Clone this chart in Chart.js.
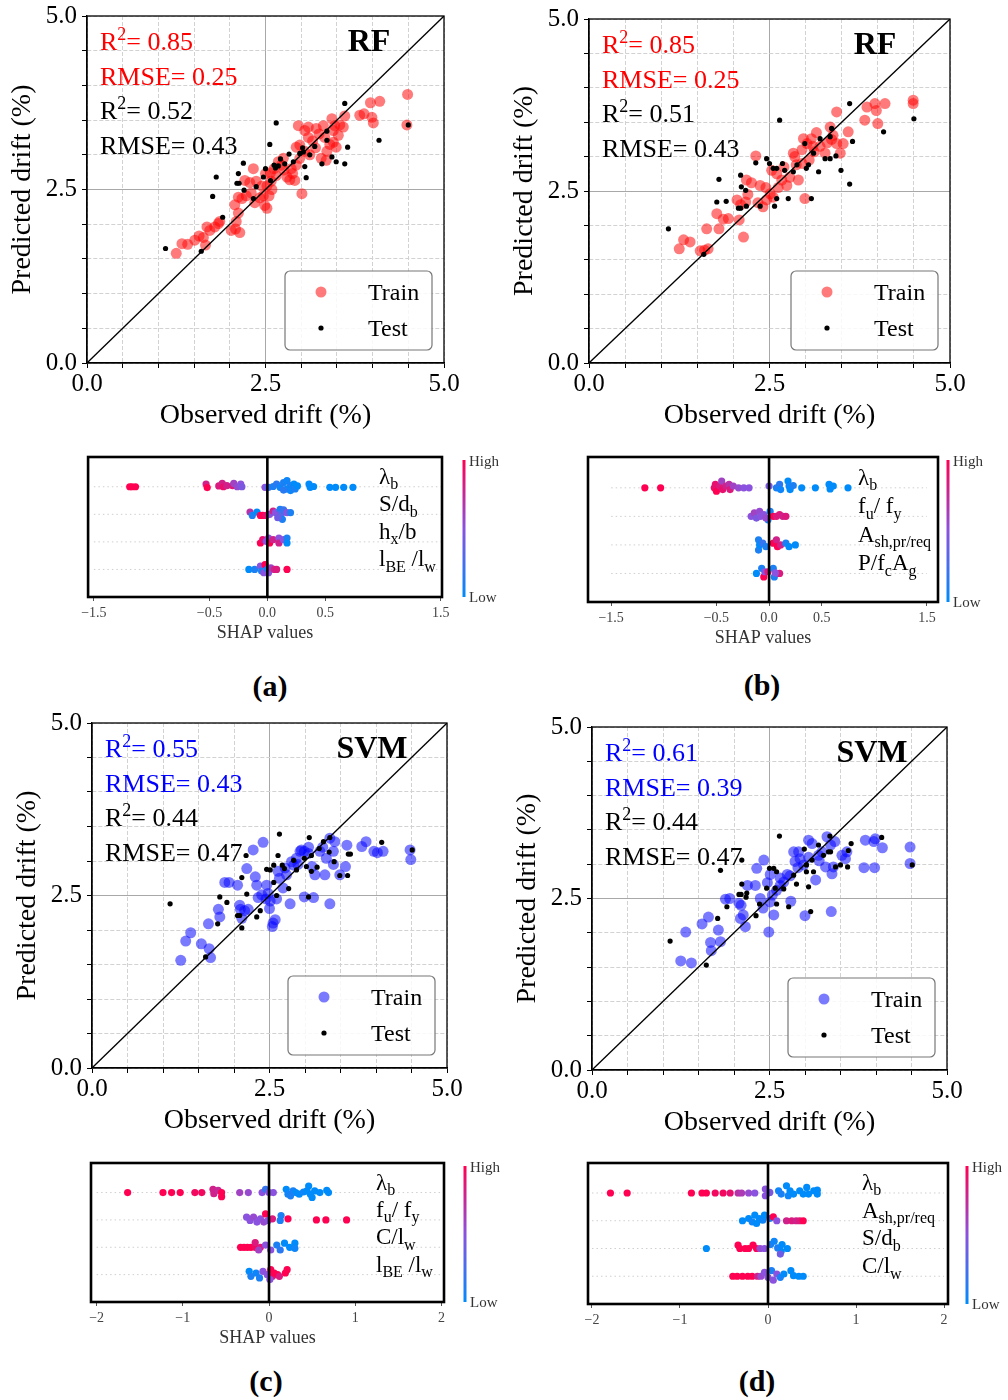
<!DOCTYPE html>
<html>
<head>
<meta charset="utf-8">
<script src="https://cdn.jsdelivr.net/npm/chart.js@4.4.1/dist/chart.umd.min.js"></script>
<style>
  html, body { margin: 0; padding: 0; background: #fff; }
  body { width: 1008px; height: 1400px; position: relative; overflow: hidden;
         font-family: "Liberation Serif", "Times New Roman", serif; }
  .box { position: absolute; }
  .tag { position: absolute; font-weight: bold; font-size: 30px; color: #000;
         transform: translate(-50%, -50%); white-space: nowrap; }
</style>
</head>
<body>
<div class="tag" style="left:270px;top:686px">(a)</div>
<div class="tag" style="left:762px;top:685px">(b)</div>
<div class="tag" style="left:266px;top:1381px">(c)</div>
<div class="tag" style="left:757px;top:1381px">(d)</div>
<script>
// ---- data ----
const driftTicks = [0, 2.5, 5.0];
const unityLine = [0, 5];
const models = ['RF', 'RF', 'SVM', 'SVM'];
const r2Train = ['0.85', '0.85', '0.55', '0.61'];
const rmseTrain = ['0.25', '0.25', '0.43', '0.39'];
const r2Test = ['0.52', '0.51', '0.44', '0.44'];
const rmseTest = ['0.43', '0.43', '0.47', '0.47'];

// observed, predicted
const trainA = [[1.25,1.58],[1.33,1.72],[1.41,1.71],[1.51,1.77],[1.57,1.83],[1.63,1.81],[1.66,1.70],[1.68,1.96],[1.72,1.91],[1.79,1.96],[1.86,2.04],[1.84,2.01],
  [2.02,1.91],[2.08,1.93],[2.14,1.88],[2.09,2.04],[2.12,2.16],[2.07,2.28],[2.12,2.39],[2.17,2.37],[2.23,2.41],[2.21,2.63],[2.28,2.60],[2.33,2.80],[2.37,2.62],[2.35,2.31],[2.42,2.38],[2.47,2.41],[2.49,2.27],[2.52,2.23],[2.55,2.41],[2.59,2.50],[2.52,2.55],[2.58,2.62],[2.50,2.73],[2.57,2.74],[2.62,2.80],[2.68,2.90],[2.72,2.85],[2.76,2.78],[2.80,2.68],[2.84,2.64],[2.91,2.63],[2.88,2.73],[2.93,2.85],[3.01,2.44],[2.98,2.95],[2.93,3.11],[2.98,3.14],[2.96,3.42],[3.05,3.35],[3.10,3.40],[3.05,3.05],[3.12,3.00],[3.16,3.20],[3.20,3.10],[3.21,3.38],[3.25,3.30],[3.31,3.42],[3.33,3.25],[3.36,3.05],[3.40,3.15],[3.43,3.52],[3.45,3.35],[3.45,3.18],[3.47,3.42],[3.49,3.11],[3.52,3.28],[3.54,3.43],[3.35,2.92],[3.28,2.95],[3.59,3.40],[3.61,3.56],[3.82,3.57],[3.88,3.59],[3.97,3.75],[3.99,3.54],[4.01,3.46],[4.10,3.77],[4.49,3.87],[4.48,3.43],[2.65,2.70],[2.45,2.55],[2.30,2.45],[2.75,2.95],[3.10,3.25],[2.86,2.80]];
const testA = [[1.10,1.65],[1.60,1.61],[1.76,2.40],[1.81,2.68],[1.90,2.10],[2.10,2.59],[2.13,2.59],[2.12,2.73],[2.19,2.88],[2.20,2.49],[2.33,2.37],[2.37,2.54],[2.47,2.68],[2.50,2.80],[2.57,2.63],[2.56,3.15],[2.62,2.85],[2.64,2.81],[2.65,3.46],[2.68,2.84],[2.71,2.94],[2.77,2.87],[2.83,3.01],[2.89,2.90],[2.98,3.02],[3.03,3.04],[3.05,2.83],[3.07,2.67],[3.02,3.10],[3.12,3.00],[3.19,3.12],[3.29,2.87],[3.36,3.34],[3.36,3.21],[3.43,2.97],[3.49,2.90],[3.61,2.87],[3.65,3.11],[3.61,3.74],[4.09,3.21],[4.50,3.43]];

const trainB = [[1.25,1.66],[1.31,1.79],[1.40,1.76],[1.54,1.63],[1.65,1.66],[1.60,1.64],[1.63,1.95],[1.77,2.17],[1.80,1.95],[1.86,2.09],[1.93,2.10],[2.05,2.37],[2.08,2.08],[2.14,1.83],[2.17,2.34],[2.10,2.30],[2.18,2.66],[2.25,2.62],[2.31,3.01],[2.37,2.58],[2.34,2.33],[2.41,2.27],[2.46,2.37],[2.51,2.46],[2.55,2.41],[2.53,2.80],[2.60,2.75],[2.67,2.66],[2.74,2.58],[2.78,2.70],[2.83,3.05],[2.87,2.88],[2.90,2.66],[2.97,3.26],[2.99,2.39],[3.02,3.19],[3.08,3.26],[3.12,3.07],[3.05,2.95],[3.27,3.05],[3.34,3.43],[3.38,3.31],[3.43,3.65],[3.43,3.19],[3.48,3.05],[3.52,3.19],[3.59,3.36],[3.30,3.20],[3.20,3.15],[2.95,2.90],[2.70,2.85],[2.62,2.55],[3.82,3.53],[3.85,3.72],[3.96,3.77],[3.98,3.67],[4.00,3.48],[4.10,3.77],[4.49,3.82],[4.49,3.77],[2.95,3.10],[3.15,3.35],[3.36,3.25],[2.45,2.55],[2.20,2.45],[2.85,3.00],[3.10,3.15]];
const testB = [[1.10,1.95],[1.59,1.58],[1.77,2.34],[1.80,2.67],[1.90,2.35],[2.07,2.25],[2.10,2.25],[2.10,2.73],[2.11,2.56],[2.17,2.51],[2.18,2.28],[2.31,2.91],[2.37,2.28],[2.46,2.97],[2.50,2.90],[2.55,2.83],[2.60,2.83],[2.57,2.28],[2.60,2.39],[2.64,3.53],[2.68,2.90],[2.71,2.80],[2.76,2.39],[2.83,2.78],[2.88,2.88],[2.99,3.19],[3.01,2.83],[3.04,2.88],[3.08,2.39],[3.11,3.05],[3.18,2.78],[3.20,3.26],[3.27,2.97],[3.34,3.29],[3.36,3.41],[3.34,2.97],[3.42,3.01],[3.49,2.80],[3.61,3.77],[3.61,2.60],[3.65,3.22],[4.08,3.36],[4.50,3.55]];

const trainC = [[1.25,1.56],[1.32,1.84],[1.39,1.96],[1.54,1.80],[1.65,1.73],[1.67,1.60],[1.64,2.09],[1.78,2.30],[1.80,2.19],[1.87,2.69],[1.93,2.69],[2.05,2.65],[2.08,2.36],[2.09,2.30],[2.11,2.17],[2.15,2.28],[2.18,2.89],[2.27,3.16],[2.30,2.77],[2.32,2.65],[2.34,2.47],[2.41,3.27],[2.39,2.51],[2.46,2.65],[2.48,2.53],[2.50,2.31],[2.51,2.42],[2.55,2.10],[2.58,2.15],[2.54,2.05],[2.60,2.45],[2.64,2.75],[2.69,2.61],[2.72,2.90],[2.74,2.80],[2.79,2.38],[2.81,2.99],[2.84,2.94],[2.88,3.04],[2.93,3.14],[2.95,3.16],[2.99,3.14],[2.99,2.48],[3.05,3.11],[3.10,2.92],[3.12,2.47],[3.14,2.80],[3.21,3.14],[3.28,2.80],[3.30,3.04],[3.35,3.33],[3.40,3.14],[3.42,3.28],[3.35,2.38],[3.40,2.95],[3.49,2.80],[3.57,2.92],[3.59,3.23],[3.80,3.21],[3.86,3.28],[3.97,3.14],[4.02,3.12],[4.10,3.14],[4.48,3.16],[4.49,3.02],[2.62,2.85],[2.90,2.95],[3.05,3.20],[2.45,2.45],[2.20,2.30],[3.25,3.20]];
const testC = [[1.10,2.38],[1.60,1.61],[1.77,2.09],[1.80,2.48],[1.90,2.40],[2.05,2.21],[2.08,2.21],[2.11,2.03],[2.11,2.76],[2.18,2.52],[2.17,3.08],[2.32,2.19],[2.37,2.28],[2.46,2.88],[2.51,2.87],[2.56,2.69],[2.56,2.94],[2.60,2.50],[2.62,3.08],[2.64,3.39],[2.68,2.94],[2.71,2.89],[2.77,2.60],[2.84,3.01],[2.88,2.87],[2.99,3.04],[3.02,2.92],[3.06,3.34],[3.05,2.48],[3.09,2.85],[3.09,3.08],[3.17,2.91],[3.20,3.18],[3.26,3.28],[3.35,3.34],[3.34,3.13],[3.41,2.99],[3.49,2.79],[3.60,2.79],[3.61,3.10],[3.64,3.10],[4.08,3.27],[4.51,3.16]];

const trainD = [[1.25,1.59],[1.40,1.56],[1.32,2.01],[1.55,2.13],[1.64,2.23],[1.67,1.86],[1.68,1.74],[1.78,2.04],[1.81,1.87],[1.88,2.49],[1.94,2.50],[2.07,2.43],[2.10,2.40],[2.09,2.21],[2.13,2.26],[2.16,2.09],[2.19,2.69],[2.30,2.69],[2.32,2.94],[2.42,3.06],[2.37,2.50],[2.41,2.36],[2.49,2.01],[2.51,2.45],[2.56,2.26],[2.54,2.55],[2.47,2.73],[2.51,2.85],[2.60,2.62],[2.65,2.69],[2.70,2.74],[2.75,2.85],[2.79,2.83],[2.80,2.46],[2.84,3.18],[2.91,3.18],[2.86,3.04],[2.93,3.08],[2.98,2.99],[3.00,2.25],[3.05,3.35],[3.10,3.30],[3.15,2.77],[3.19,3.13],[3.24,3.18],[3.29,2.96],[3.31,3.40],[3.36,3.28],[3.38,2.86],[3.40,2.96],[3.42,3.33],[3.37,2.31],[3.52,3.13],[3.57,3.08],[3.59,3.18],[3.83,2.95],[3.85,3.35],[3.97,3.33],[3.99,3.37],[3.98,2.95],[4.09,3.24],[4.48,3.25],[4.48,3.01],[2.90,2.95],[3.20,3.05],[2.65,2.80],[3.05,3.10]];
const testD = [[1.10,1.88],[1.61,1.53],[1.77,2.21],[1.81,2.91],[1.90,2.38],[2.07,2.56],[2.10,2.56],[2.11,2.71],[2.11,3.06],[2.17,2.52],[2.18,2.58],[2.31,2.25],[2.36,2.42],[2.46,2.65],[2.50,2.94],[2.56,2.94],[2.60,2.89],[2.58,2.65],[2.60,2.42],[2.64,3.41],[2.70,2.64],[2.77,2.38],[2.84,2.84],[2.88,2.71],[2.99,3.22],[3.02,2.89],[3.05,2.67],[3.02,2.99],[3.08,2.31],[3.10,3.06],[3.12,2.89],[3.19,3.28],[3.26,3.13],[3.33,3.18],[3.35,3.41],[3.36,3.18],[3.43,2.96],[3.50,2.99],[3.60,2.96],[3.61,3.20],[3.65,3.30],[4.08,3.39],[4.51,2.99]];

// SHAP rows: [shap value, swarm offset (rows), feature value 0=low..1=high]
const shapA = [
  [[-1.19,0,1],[-1.17,0,1],[-1.14,0,1],[-0.53,-0.1,0.8],[-0.52,0.03,1],[-0.42,-0.03,0.85],[-0.39,-0.12,0.8],[-0.38,0,0.9],[-0.35,-0.04,0.8],[-0.30,-0.04,0.85],[-0.29,-0.12,0.6],[-0.26,0,0.55],[-0.23,-0.1,0.5],[-0.22,0,0.45],
   [-0.02,0.02,0.5],[0.01,0.02,0.2],[0.05,-0.01,0.1],[0.08,-0.1,0.15],[0.11,0.02,0.05],[0.14,-0.15,0.1],[0.17,-0.22,0.05],[0.17,0.08,0],[0.20,-0.04,0.1],[0.20,0.14,0.05],[0.23,-0.1,0],[0.24,0.08,0.1],[0.26,-0.03,0],[0.14,0.12,0.15],
   [0.36,-0.1,0],[0.37,0.02,0],[0.40,-0.01,0],[0.54,0.02,0],[0.59,0.02,0],[0.66,0.02,0],[0.74,0.02,0]],
  [[-0.15,-0.08,0.7],[-0.13,0.04,0.1],[-0.09,-0.08,0],[-0.06,0.04,1],[-0.04,0.04,1],[-0.01,0.04,0.9],[0.02,0,0.5],[0.05,-0.12,0.8],[0.07,-0.06,0.5],[0.11,-0.18,0.1],[0.12,0,0.3],[0.14,-0.16,0.2],[0.17,-0.06,0.5],[0.20,-0.06,0.1],[0.13,0.18,0.1],[0.09,0.12,0.4]],
  [[-0.06,0.04,1],[-0.04,-0.08,0.9],[-0.01,-0.02,0.5],[0.01,-0.14,0.5],[0.02,0.04,1],[0.05,-0.08,0.8],[0.10,-0.14,0.5],[0.10,0.04,0.8],[0.14,-0.08,0.5],[0.17,-0.14,0.1],[0.17,0.04,0]],
  [[-0.16,0,0],[-0.11,0,0.1],[-0.06,-0.12,0.5],[-0.05,0.06,0.1],[-0.03,0.12,0.5],[-0.02,-0.18,1],[0.0,0,0.1],[0.01,0.12,0.5],[0.03,-0.06,0.6],[0.06,0,0.8],[0.08,0,0.85],[0.17,0,1]]
];
const shapB = [
  [[-1.18,0,1],[-1.03,0,1],[-0.52,0,0.9],[-0.51,-0.12,0.9],[-0.50,0.12,1],[-0.47,-0.06,0.85],[-0.45,-0.24,0.6],[-0.44,0.06,0.9],[-0.41,-0.06,0.8],[-0.38,-0.12,0.7],[-0.37,0.06,0.85],[-0.34,-0.06,0.6],[-0.29,0,0.55],[-0.24,0,0.5],[-0.19,0,0.5],
   [0.0,-0.06,0.45],[0.07,0,0.1],[0.10,-0.12,0.15],[0.11,0.06,0.05],[0.18,-0.24,0],[0.19,-0.06,0.05],[0.20,0.06,0],[0.23,-0.08,0.1],[0.31,0,0],[0.44,0,0],[0.57,-0.12,0],[0.58,0.04,0],[0.61,-0.06,0],[0.75,0,0]],
  [[-0.17,0,0.5],[-0.14,-0.12,0.6],[-0.12,0.06,0.45],[-0.09,-0.18,0.55],[-0.08,0,0.5],[-0.05,-0.06,0.5],[-0.01,0.12,0.1],[0.01,-0.18,0.1],[0.04,0,1],[0.07,0,0.85],[0.10,-0.06,0.85],[0.13,0,0.8],[0.16,0,0.85],[-0.03,0.06,0.55]],
  [[-0.10,-0.18,0.1],[-0.10,0.18,0.1],[-0.09,0,0],[-0.06,-0.06,0.2],[-0.03,0.06,0.1],[0.04,-0.06,1],[0.07,-0.18,0.8],[0.08,0.06,1],[0.11,0,0.8],[0.16,-0.06,0.1],[0.19,0.06,0],[0.25,0,0]],
  [[-0.12,0,0],[-0.07,-0.18,0.1],[-0.05,0.12,1],[-0.04,-0.06,0.5],[-0.01,-0.06,0.85],[0.04,-0.18,0.1],[0.05,0.12,0.1],[0.10,0,0.85],[0.06,-0.02,0.5]]
];
const shapC = [
  [[-1.64,0,1],[-1.23,0,1],[-1.13,0,1],[-1.03,0,1],[-0.86,0,0.95],[-0.78,0,0.95],[-0.65,-0.12,0.8],[-0.64,0.04,0.8],[-0.59,-0.08,0.75],[-0.55,0,1],[-0.55,0.15,1],[-0.34,0,0.6],[-0.24,0,0.55],
   [-0.08,0,0.5],[-0.04,-0.12,0.2],[0.0,0,0.5],[0.05,0,0.5],[0.20,-0.12,0],[0.22,0.06,0.05],[0.28,-0.06,0.1],[0.31,0,0],[0.35,0.06,0],[0.40,-0.02,0.05],[0.44,-0.06,0],[0.46,-0.24,0],[0.48,0.06,0],[0.50,0.18,0],[0.53,-0.06,0],[0.59,0,0],[0.67,-0.08,0],[0.69,0,0],[0.25,0.12,0.1]],
  [[-0.26,-0.1,0.5],[-0.22,0.02,0.5],[-0.18,-0.1,0.55],[-0.14,0.08,0.5],[-0.10,-0.04,0.5],[-0.06,0.08,0.55],[-0.04,-0.22,1],[-0.01,0.02,0.5],[0.04,-0.04,0.85],[0.13,0.02,0.1],[0.14,-0.16,0.1],[0.22,-0.04,1],[0.55,0,1],[0.66,0,1],[0.90,0,1]],
  [[-0.33,0,1],[-0.29,0,1],[-0.25,0,1],[-0.21,0,1],[-0.16,0,0.95],[-0.10,0,0.85],[-0.16,-0.17,0.85],[-0.12,0.1,0.6],[-0.04,-0.08,0.5],[0.02,0.1,0.5],[0.09,-0.08,0.1],[0.13,0.1,0.15],[0.18,-0.15,0],[0.24,0,0],[0.30,-0.15,0],[0.30,0.04,0.05]],
  [[-0.23,-0.12,0],[-0.21,0.06,0.1],[-0.15,-0.06,0.05],[-0.11,0.12,0.1],[-0.07,-0.12,0.5],[-0.02,0,0.5],[0.02,-0.18,1],[0.04,0.06,0.85],[0.06,-0.06,1],[0.10,0,1],[0.12,0.06,0.85],[0.19,-0.06,1],[0.21,-0.18,1],[0.01,0.18,0.5]]
];
const shapD = [
  [[-1.79,0,1],[-1.60,0,1],[-0.87,0,1],[-0.75,0,1],[-0.70,0,1],[-0.60,0,0.95],[-0.51,0,0.95],[-0.43,0,0.9],[-0.34,0,0.7],[-0.30,0,0.65],[-0.22,0,0.55],[-0.15,0,0.5],
   [-0.03,-0.14,0.5],[-0.03,0.1,0.5],[0.0,0,0.5],[0.02,-0.02,0.45],[0.12,-0.08,0.05],[0.15,0.04,0.1],[0.21,-0.26,0],[0.23,0.1,0.05],[0.25,-0.08,0],[0.29,0.04,0],[0.36,-0.08,0],[0.40,0.04,0],[0.44,-0.2,0],[0.46,0.04,0],[0.52,-0.08,0],[0.56,-0.1,0],[0.56,0.04,0]],
  [[-0.29,0,0],[-0.22,-0.08,0],[-0.18,0.04,0.05],[-0.15,-0.2,0],[-0.13,0.1,0],[-0.10,-0.08,0],[-0.06,-0.02,0.05],[-0.04,-0.2,0],[0.02,-0.08,0.1],[0.06,-0.14,1],[0.10,0,0.5],[0.21,0,0.8],[0.27,0,0.85],[0.32,0,0.8],[0.36,0,0.85],[0.40,0,1]],
  [[-0.70,0,0],[-0.34,-0.12,1],[-0.32,0,1],[-0.26,0,1],[-0.22,0,1],[-0.17,-0.12,1],[-0.13,0,1],[-0.09,0,0.55],[-0.04,0,0.5],[0.03,-0.14,0.1],[0.07,-0.26,0.05],[0.11,-0.02,0.1],[0.15,0.1,0],[0.16,-0.14,0],[0.22,0,0],[0.14,0.2,0.4]],
  [[-0.40,0,1],[-0.35,0,1],[-0.29,0,1],[-0.23,0,1],[-0.18,0,1],[-0.12,0,0.8],[-0.08,0,0.55],[-0.04,-0.14,0.5],[0.0,0.04,0.5],[0.04,-0.2,0.1],[0.06,0.14,0.5],[0.10,-0.08,0.5],[0.14,0.04,0.1],[0.18,-0.08,0],[0.26,-0.2,0],[0.29,-0.02,0],[0.35,0,0],[0.40,0,0]]
];

// feature names, [text, 'sub'|''] pieces
const featA = [[['λ',''],['b','sub']], [['S/d',''],['b','sub']], [['h',''],['x','sub'],['/b','']], [['l',''],['BE','sub'],[' /l',''],['w','sub']]];
const featB = [[['λ',''],['b','sub']], [['f',''],['u','sub'],['/ f',''],['y','sub']], [['A',''],['sh,pr/req','sub']], [['P/f',''],['c','sub'],['A',''],['g','sub']]];
const featC = [[['λ',''],['b','sub']], [['f',''],['u','sub'],['/ f',''],['y','sub']], [['C/l',''],['w','sub']], [['l',''],['BE','sub'],[' /l',''],['w','sub']]];
const featD = [[['λ',''],['b','sub']], [['A',''],['sh,pr/req','sub']], [['S/d',''],['b','sub']], [['C/l',''],['w','sub']]];

const shapTicksAB = [-1.5, -0.5, 0, 0.5, 1.5];
const shapTicksCD = [-2, -1, 0, 1, 2];

// ---- drawing ----
const SERIF = '"Liberation Serif", "Times New Roman", Times, serif';

function drawRich(ctx, parts, x, y, size, color, align, weight) {
  const fontFor = (k) => `${weight || 'normal'} ${k ? Math.round(size * 0.68) : size}px ${SERIF}`;
  let w = 0;
  parts.forEach(([t, k]) => { ctx.font = fontFor(k); w += ctx.measureText(t).width; });
  let cx = align === 'center' ? x - w / 2 : align === 'right' ? x - w : x;
  ctx.fillStyle = color;
  ctx.textAlign = 'left';
  ctx.textBaseline = 'alphabetic';
  parts.forEach(([t, k]) => {
    ctx.font = fontFor(k);
    const dy = k === 'sup' ? -size * 0.38 : k === 'sub' ? size * 0.24 : 0;
    ctx.fillText(t, cx, y + dy);
    cx += ctx.measureText(t).width;
  });
}

function shapColor(c) {
  const lo = [0, 139, 251], mid = [138, 82, 222], hi = [255, 0, 82];
  const mix = (a, b, t) => a.map((v, i) => Math.round(v + (b[i] - v) * t));
  const rgb = c < 0.5 ? mix(lo, mid, c / 0.5) : mix(mid, hi, (c - 0.5) / 0.5);
  return `rgb(${rgb[0]},${rgb[1]},${rgb[2]})`;
}

function place(left, top, width, height) {
  const div = document.createElement('div');
  div.className = 'box';
  div.style.left = left + 'px';
  div.style.top = top + 'px';
  div.style.width = width + 'px';
  div.style.height = height + 'px';
  const cv = document.createElement('canvas');
  div.appendChild(cv);
  document.body.appendChild(div);
  return cv;
}

const scatterPanels = [
  {area: [87, 16, 444, 363], train: trainA, test: testA, rgb: '255,0,0', ink: '#ff0000', k: 0},
  {area: [589, 19, 950, 363], train: trainB, test: testB, rgb: '255,0,0', ink: '#ff0000', k: 1},
  {area: [92, 723, 447, 1068], train: trainC, test: testC, rgb: '0,0,255', ink: '#0000ff', k: 2},
  {area: [592, 727, 947, 1070], train: trainD, test: testD, rgb: '0,0,255', ink: '#0000ff', k: 3}
];

function makeScatter(p) {
  const padT = 20, padR = 30, yW = 87, xH = 72;
  const W = p.area[2] - p.area[0], H = p.area[3] - p.area[1];
  const cv = place(p.area[0] - yW, p.area[1] - padT, W + yW + padR, H + padT + xH);
  const trainColor = `rgba(${p.rgb},0.52)`;

  const deco = {
    id: 'deco',
    afterDraw(chart) {
      const {ctx, chartArea: a} = chart;
      ctx.save();
      ctx.strokeStyle = '#000';
      ctx.lineWidth = 1.3;
      ctx.strokeRect(a.left, a.top, a.right - a.left, a.bottom - a.top);

      const lines = [
        [[['R',''],['2','sup'],['= ' + r2Train[p.k],'']], p.ink],
        [[['RMSE= ' + rmseTrain[p.k],'']], p.ink],
        [[['R',''],['2','sup'],['= ' + r2Test[p.k],'']], '#000'],
        [[['RMSE= ' + rmseTest[p.k],'']], '#000']
      ];
      lines.forEach(([parts, col], i) => drawRich(ctx, parts, a.left + 13, a.top + 34 + i * 34.5, 26, col, 'left'));
      drawRich(ctx, [[models[p.k], '']], a.right - 75, a.top + 35, 32, '#000', 'center', 'bold');

      // legend
      const bw = 147, bh = 79;
      const bx = a.right - 12 - bw, by = a.bottom - 13 - bh;
      ctx.beginPath();
      ctx.roundRect(bx, by, bw, bh, 5);
      ctx.fillStyle = 'rgba(255,255,255,0.85)';
      ctx.fill();
      ctx.strokeStyle = '#777';
      ctx.lineWidth = 1.2;
      ctx.stroke();
      ctx.fillStyle = trainColor;
      ctx.beginPath(); ctx.arc(bx + 36, by + 21, 5.5, 0, Math.PI * 2); ctx.fill();
      ctx.fillStyle = '#000';
      ctx.beginPath(); ctx.arc(bx + 36, by + 57, 2.6, 0, Math.PI * 2); ctx.fill();
      drawRich(ctx, [['Train', '']], bx + 83, by + 29, 24, '#000', 'left');
      drawRich(ctx, [['Test', '']], bx + 83, by + 65, 24, '#000', 'left');
      ctx.restore();
    }
  };

  const gridColor = (c) => (c.tick && c.tick.value === 2.5 ? '#a8a8a8' : '#d2d2d2');
  const gridDash = (c) => (c.tick && c.tick.value !== 2.5 ? [4, 2] : []);
  const tickLabel = (v) => (driftTicks.includes(v) ? v.toFixed(1) : '');

  const axis = (title, fit, tickPad, titlePad) => ({
    type: 'linear', min: 0, max: 5,
    ticks: {stepSize: 0.5, autoSkip: false, maxRotation: 0, callback: tickLabel,
            font: {family: SERIF, size: 25}, color: '#000', padding: tickPad},
    grid: {color: gridColor, lineWidth: 1, tickLength: 5, tickColor: '#000', tickWidth: 1},
    border: {display: true, color: '#000', width: 1.3, dash: gridDash},
    title: {display: true, text: title, font: {family: SERIF, size: 28}, color: '#000', padding: titlePad},
    afterFit: fit
  });

  new Chart(cv, {
    type: 'scatter',
    data: {
      datasets: [
        {label: 'Test', data: p.test.map(([x, y]) => ({x, y})), backgroundColor: '#000',
         pointRadius: 2.6, borderWidth: 0},
        {type: 'line', label: 'Ideal', data: unityLine.map((v) => ({x: v, y: v})), borderColor: '#000',
         borderWidth: 1.3, pointRadius: 0, fill: false},
        {label: 'Train', data: p.train.map(([x, y]) => ({x, y})), backgroundColor: trainColor,
         pointRadius: 5.5, borderWidth: 0}
      ]
    },
    options: {
      responsive: true, maintainAspectRatio: false, animation: false,
      layout: {padding: {top: padT, right: padR, bottom: 0, left: 0}, autoPadding: false},
      plugins: {legend: {display: false}, tooltip: {enabled: false}},
      scales: {
        x: axis('Observed drift (%)', (s) => { s.height = xH; }, 1, {top: 0, bottom: 3}),
        y: axis('Predicted drift (%)', (s) => { s.width = yW; }, 5, {top: 6, bottom: 0})
      }
    },
    plugins: [deco]
  });
}

const shapPanels = [
  {area: [87, 457, 442, 597], range: [-1.55, 1.51], ticks: shapTicksAB, rows: shapA, feats: featA, labelOff: 63, cbOff: 22, title: true, dec: 1},
  {area: [588, 457, 938, 602], range: [-1.72, 1.605], ticks: shapTicksAB, rows: shapB, feats: featB, labelOff: 80, cbOff: 10, title: true, dec: 1},
  {area: [91, 1163, 444, 1302], range: [-2.065, 2.03], ticks: shapTicksCD, rows: shapC, feats: featC, labelOff: 68, cbOff: 21, title: true, dec: 0},
  {area: [588, 1163, 948, 1304], range: [-2.045, 2.045], ticks: shapTicksCD, rows: shapD, feats: featD, labelOff: 86, cbOff: 19, title: false, dec: 0}
];

function makeShap(p) {
  const padL = 10, padT = 10, padR = 80, xH = 50;
  const W = p.area[2] - p.area[0], H = p.area[3] - p.area[1];
  const cv = place(p.area[0] - padL, p.area[1] - padT, W + padL + padR, H + padT + xH);
  const yMin = -0.08, yMax = 5.0;
  const t0 = p.ticks[0], t1 = p.ticks[p.ticks.length - 1];

  const datasets = [
    {type: 'line', data: [{x: 0, y: yMin}, {x: 0, y: yMax}], borderColor: '#000', borderWidth: 2.6, pointRadius: 0}
  ];
  p.rows.forEach((row, i) => {
    datasets.push({
      data: row.map(([v, dy]) => ({x: v, y: i + 1 + dy})),
      backgroundColor: row.map(([, , c]) => shapColor(c)),
      pointRadius: 3.6, borderWidth: 0
    });
  });
  p.rows.forEach((row, i) => {
    datasets.push({type: 'line', data: [{x: t0, y: i + 1}, {x: t1, y: i + 1}],
      borderColor: '#cfcfcf', borderWidth: 1, borderDash: [1.5, 3], pointRadius: 0});
  });

  const deco = {
    id: 'shapdeco',
    afterDraw(chart) {
      const {ctx, chartArea: a, scales} = chart;
      ctx.save();
      ctx.strokeStyle = '#000';
      ctx.lineWidth = 2.6;
      ctx.strokeRect(a.left, a.top, a.right - a.left, a.bottom - a.top);
      p.feats.forEach((parts, i) => {
        drawRich(ctx, parts, a.right - p.labelOff, scales.y.getPixelForValue(i + 1) - 3, 23, '#000', 'left');
      });
      // colour bar
      const cx = a.right + p.cbOff;
      const g = ctx.createLinearGradient(0, a.top + 3, 0, a.bottom);
      g.addColorStop(0, shapColor(1));
      g.addColorStop(0.5, shapColor(0.5));
      g.addColorStop(1, shapColor(0));
      ctx.fillStyle = g;
      ctx.fillRect(cx - 1.5, a.top + 3, 3, a.bottom - a.top - 3);
      ctx.fillStyle = '#333';
      ctx.font = `15px ${SERIF}`;
      ctx.textAlign = 'left';
      ctx.textBaseline = 'middle';
      ctx.fillText('High', cx + 5, a.top + 5);
      ctx.fillText('Low', cx + 5, a.bottom + 1);
      ctx.restore();
    }
  };

  new Chart(cv, {
    type: 'scatter',
    data: {datasets},
    options: {
      responsive: true, maintainAspectRatio: false, animation: false,
      layout: {padding: {top: padT, right: padR, bottom: 0, left: padL}, autoPadding: false},
      plugins: {legend: {display: false}, tooltip: {enabled: false}},
      scales: {
        x: {
          type: 'linear', min: p.range[0], max: p.range[1],
          afterBuildTicks: (s) => { s.ticks = p.ticks.map((v) => ({value: v})); },
          ticks: {autoSkip: false, maxRotation: 0, font: {family: SERIF, size: 14}, color: '#444', padding: 4,
                  callback: (v) => v.toFixed(p.dec).replace('-', '\u2212')},
          grid: {drawOnChartArea: false, drawTicks: true, tickLength: 4, tickColor: '#555', tickWidth: 1},
          border: {display: false},
          title: {display: p.title, text: 'SHAP values', font: {family: SERIF, size: 18}, color: '#333',
                  padding: {top: 0, bottom: 3}},
          afterFit: (s) => { s.height = xH; }
        },
        y: {type: 'linear', min: yMin, max: yMax, reverse: true, display: false}
      }
    },
    plugins: [deco]
  });
}

scatterPanels.forEach(makeScatter);
shapPanels.forEach(makeShap);
</script>
</body>
</html>
